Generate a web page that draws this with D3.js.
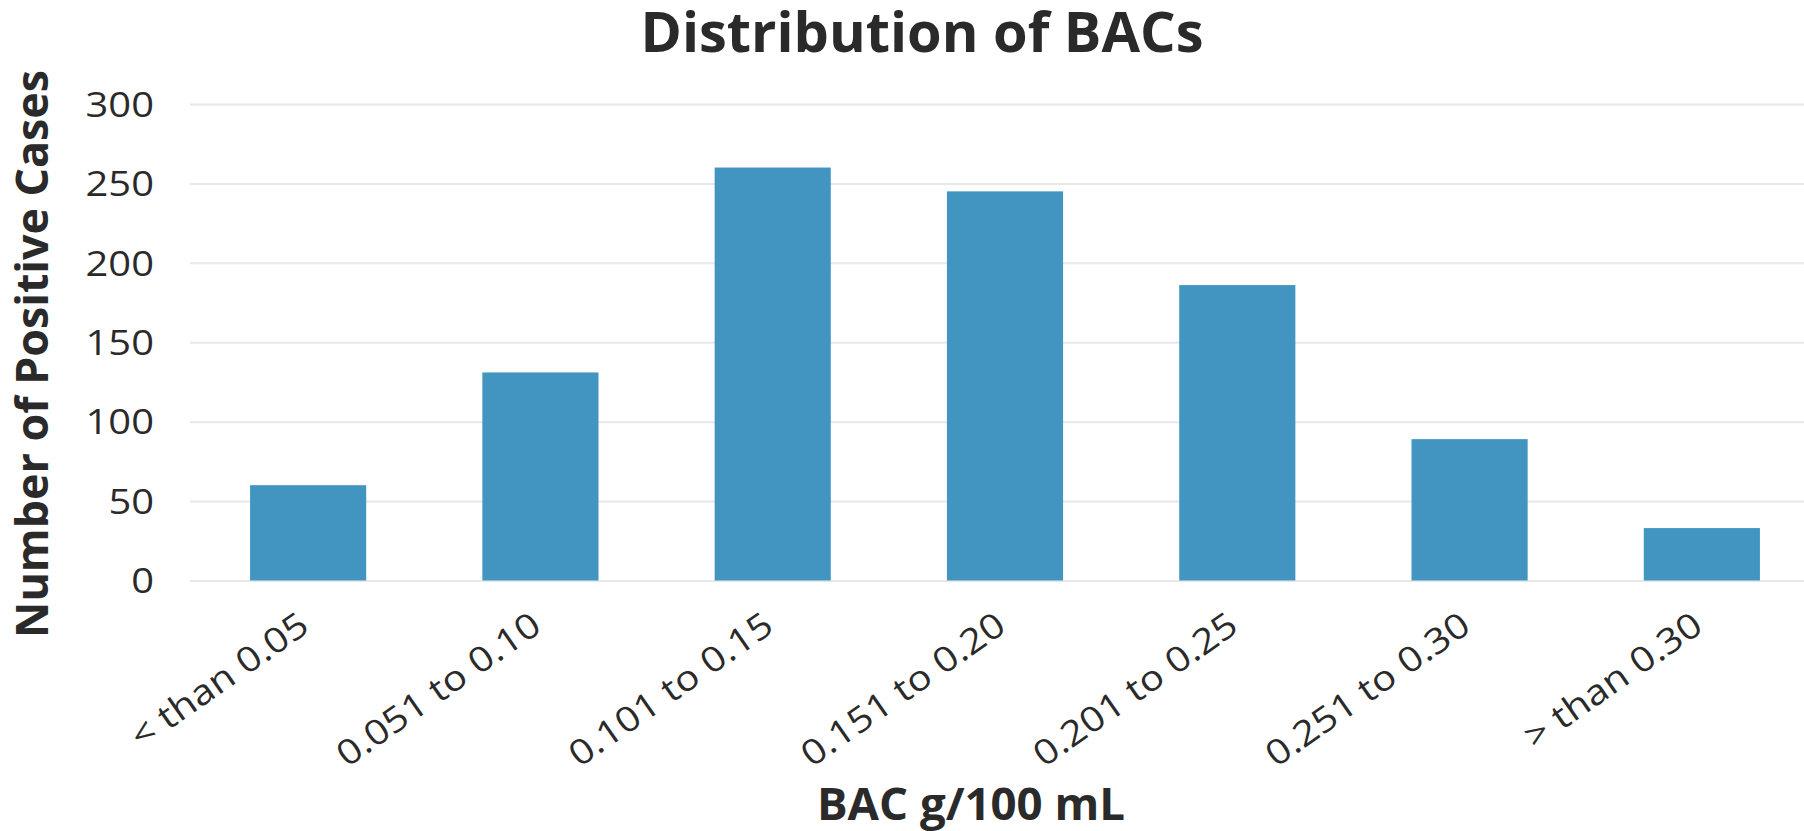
<!DOCTYPE html>
<html>
<head>
<meta charset="utf-8">
<script src="https://cdn.jsdelivr.net/npm/d3@7"></script>
<style>
  html, body { margin: 0; padding: 0; background: #ffffff; }
  svg { display: block; }
  text { font-family: "Open Sans", "Noto Sans", sans-serif; fill: #2a2a2a; }
</style>
</head>
<body>
<svg id="chart" width="1804" height="831"></svg>
<script>
// BAC ranges (g/100 mL) and number of positive cases in each
const categories = ["< than 0.05", "0.051 to 0.10", "0.101 to 0.15", "0.151 to 0.20",
                    "0.201 to 0.25", "0.251 to 0.30", "> than 0.30"];
const cases = [60, 131, 260, 245, 186, 89, 33];
const yTicks = [0, 50, 100, 150, 200, 250, 300];

const chartTitle = "Distribution of BACs";
const xTitle = "BAC g/100 mL";
const yTitle = "Number of Positive Cases";

const W = 1804, H = 831;
const plot = { left: 190, right: 1818, top: 104, bottom: 580.5 };
const barColor = "#4395c1";
const gridColor = "#e8e8e8";
const tickWiden = 1.14;   // wider set for the tick labels

const svg = d3.select("#chart");

const x = d3.scaleBand()
  .domain(categories)
  .range([plot.left + 2, plot.right])
  .paddingInner(0.5)
  .paddingOuter(0.25);

const y = d3.scaleLinear()
  .domain([0, 300])
  .range([plot.bottom, plot.top]);

function widen(sel) {
  sel.each(function () {
    const w = this.getComputedTextLength();
    d3.select(this)
      .attr("textLength", w * tickWiden)
      .attr("lengthAdjust", "spacingAndGlyphs");
  });
}

// Horizontal gridlines with value labels
const yAxis = svg.append("g")
  .attr("transform", `translate(${plot.left},0)`)
  .call(d3.axisLeft(y)
    .tickValues(yTicks)
    .tickSize(-(W - plot.left))
    .tickPadding(36)
    .tickFormat(d3.format("d")));
yAxis.select(".domain").remove();
yAxis.selectAll(".tick line")
  .attr("stroke", gridColor)
  .attr("stroke-width", 2);
yAxis.selectAll(".tick text")
  .attr("font-size", 35)
  .attr("font-weight", 400)
  .attr("fill", "#2a2a2a")
  .attr("font-family", "'Open Sans', sans-serif")
  .attr("dy", "0.35em")
  .call(widen);

// Bars
svg.append("g")
  .selectAll("rect")
  .data(categories)
  .join("rect")
  .attr("x", d => x(d))
  .attr("width", x.bandwidth())
  .attr("y", (d, i) => y(cases[i]))
  .attr("height", (d, i) => y(0) - y(cases[i]))
  .attr("fill", barColor);

// Category labels, slanted
const xAxis = svg.append("g")
  .attr("transform", `translate(0,${plot.bottom})`)
  .call(d3.axisBottom(x).tickSize(0).tickPadding(0));
xAxis.select(".domain").remove();
xAxis.selectAll(".tick text")
  .attr("font-size", 35)
  .attr("font-weight", 400)
  .attr("fill", "#2a2a2a")
  .attr("font-family", "'Open Sans', sans-serif")
  .attr("text-anchor", "end")
  .attr("dy", null)
  .attr("y", null)
  .attr("transform", "translate(3,50) rotate(-35)")
  .call(widen);

// Chart title
svg.append("text")
  .attr("x", 922)
  .attr("y", 52)
  .attr("text-anchor", "middle")
  .attr("font-size", 56)
  .attr("font-weight", 700)
  .attr("textLength", 563)
  .attr("lengthAdjust", "spacingAndGlyphs")
  .text(chartTitle);

// X axis title
svg.append("text")
  .attr("x", 971)
  .attr("y", 820)
  .attr("text-anchor", "middle")
  .attr("font-size", 44)
  .attr("font-weight", 700)
  .attr("textLength", 308)
  .attr("lengthAdjust", "spacingAndGlyphs")
  .text(xTitle);

// Y axis title
svg.append("text")
  .attr("transform", "translate(47.5,354) rotate(-90)")
  .attr("text-anchor", "middle")
  .attr("font-size", 44)
  .attr("font-weight", 700)
  .attr("textLength", 568)
  .attr("lengthAdjust", "spacingAndGlyphs")
  .text(yTitle);
</script>
</body>
</html>
